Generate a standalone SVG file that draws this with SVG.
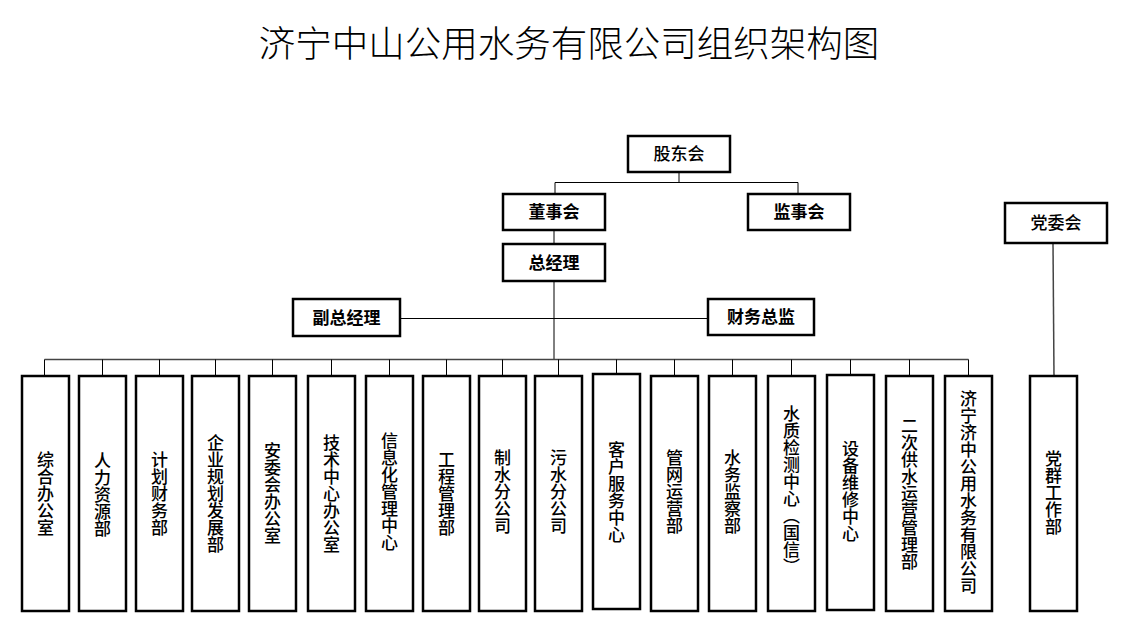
<svg xmlns="http://www.w3.org/2000/svg" width="1129" height="635" viewBox="0 0 1129 635">
<style>
.box{fill:#fff;stroke:#000;stroke-width:2.5}
.ln{stroke:#000;stroke-width:1;fill:none}
.bus{stroke:#444;stroke-width:1.5;fill:none}
.t{font-family:"Noto Sans CJK SC","Noto Sans",sans-serif;font-size:17px;font-weight:500;fill:#000;text-anchor:middle}
.b{font-weight:bold}
.v{writing-mode:vertical-rl;font-family:"Noto Sans CJK SC","Noto Sans",sans-serif;font-size:17px;font-weight:500;fill:#000;text-anchor:middle}
.title{font-family:"Noto Sans CJK SC","Noto Sans",sans-serif;font-size:36.5px;font-weight:300;fill:#000;text-anchor:middle}
</style>
<rect width="1129" height="635" fill="#fff"/>
<text class="title" x="569" y="57">济宁中山公用水务有限公司组织架构图</text>

<g id="connectors">
<path class="ln" d="M679 172V182.5M555 182.5H798M555 182.5V194M798 182.5V194"/>
<path class="ln" d="M554 230V244M554 281V359M400 318.5H708"/>
<path class="bus" d="M44.5 359.5H968.5"/>
<path class="ln" d="M44.5 359.5V376M102.5 359.5V376M159.5 359.5V376M215.5 359.5V376M272.5 359.5V376M331.5 359.5V376M389.5 359.5V376M446.5 359.5V376M502.5 359.5V376M558.5 359.5V376M616.5 359.5V374M674.5 359.5V376M732.5 359.5V376M791.5 359.5V376M850.5 359.5V375M909.5 359.5V376M968.5 359.5V376"/>
<path class="bus" d="M1053 243L1054 376"/>
</g>

<g id="gudonghui"><rect class="box" x="628" y="136" width="102" height="36"/><text class="t" x="679" y="160">股东会</text></g>
<g id="dongshihui"><rect class="box" x="503" y="194" width="102" height="36"/><text class="t b" x="554" y="218">董事会</text></g>
<g id="jianshihui"><rect class="box" x="748" y="194" width="102" height="36"/><text class="t b" x="799" y="218">监事会</text></g>
<g id="zongjingli"><rect class="box" x="503" y="244" width="102" height="37"/><text class="t b" x="554" y="268.5">总经理</text></g>
<g id="fuzongjingli"><rect class="box" x="293" y="299" width="107" height="37"/><text class="t b" x="346.5" y="323.5">副总经理</text></g>
<g id="caiwuzongjian"><rect class="box" x="708" y="299" width="106" height="36"/><text class="t b" x="761" y="323">财务总监</text></g>
<g id="dangweihui"><rect class="box" x="1005" y="203" width="102" height="40"/><text class="t" x="1056" y="229">党委会</text></g>

<g id="d1"><rect class="box" x="22" y="376" width="47" height="235"/><text class="v" x="45.5" y="493.5">综合办公室</text></g>
<g id="d2"><rect class="box" x="79" y="376" width="47" height="235"/><text class="v" x="102.5" y="495">人力资源部</text></g>
<g id="d3"><rect class="box" x="136" y="376" width="47" height="235"/><text class="v" x="159.5" y="493.5">计划财务部</text></g>
<g id="d4"><rect class="box" x="192" y="376" width="47" height="235"/><text class="v" x="215.5" y="493.5">企业规划发展部</text></g>
<g id="d5"><rect class="box" x="249" y="376" width="47" height="235"/><text class="v" x="272.5" y="493.5">安委会办公室</text></g>
<g id="d6"><rect class="box" x="308" y="376" width="47" height="235"/><text class="v" x="331.5" y="493.5">技术中心办公室</text></g>
<g id="d7"><rect class="box" x="366" y="376" width="47" height="235"/><text class="v" x="389.5" y="492">信息化管理中心</text></g>
<g id="d8"><rect class="box" x="423" y="376" width="47" height="235"/><text class="v" x="446.5" y="493.5">工程管理部</text></g>
<g id="d9"><rect class="box" x="479" y="376" width="47" height="235"/><text class="v" x="502.5" y="492">制水分公司</text></g>
<g id="d10"><rect class="box" x="535" y="376" width="47" height="235"/><text class="v" x="558.5" y="492">污水分公司</text></g>
<g id="d11"><rect class="box" x="593" y="374" width="47" height="235"/><text class="v" x="616.5" y="492">客户服务中心</text></g>
<g id="d12"><rect class="box" x="651" y="376" width="47" height="235"/><text class="v" x="674.5" y="492">管网运营部</text></g>
<g id="d13"><rect class="box" x="709" y="376" width="47" height="235"/><text class="v" x="732.5" y="492">水务监察部</text></g>
<g id="d14"><rect class="box" x="768" y="376" width="47" height="235"/><text class="v" x="791.5" y="490">水质检测中心（国信）</text></g>
<g id="d15"><rect class="box" x="827" y="375" width="47" height="235"/><text class="v" x="850.5" y="491">设备维修中心</text></g>
<g id="d16"><rect class="box" x="886" y="376" width="47" height="235"/><text class="v" x="909.5" y="494">二次供水运营管理部</text></g>
<g id="d17"><rect class="box" x="945" y="376" width="47" height="235"/><text class="v" x="968.5" y="492">济宁济中公用水务有限公司</text></g>
<g id="d18"><rect class="box" x="1030" y="376" width="47" height="235"/><text class="v" x="1053.5" y="492.5">党群工作部</text></g>
</svg>
